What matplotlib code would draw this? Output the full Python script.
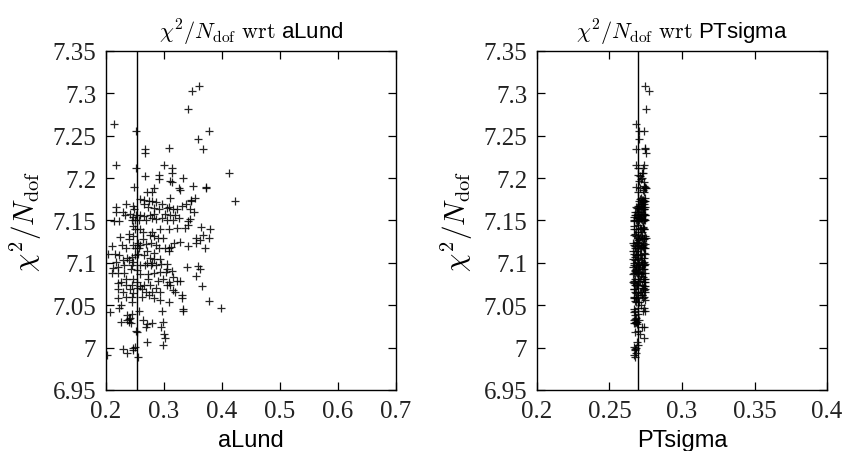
import matplotlib
matplotlib.use("Agg")
import matplotlib.pyplot as plt
from matplotlib.ticker import FuncFormatter

plt.rcParams['mathtext.fontset'] = 'cm'

# chi2/Ndof of each fit (shared by both panels)
chi2 = [
    7.309, 7.303, 7.282, 7.264, 7.256, 7.256, 7.246, 7.234, 7.234, 7.230, 7.236, 7.215,
    7.216, 7.212, 7.212, 7.206, 7.206, 7.204, 7.202, 7.200, 7.197, 7.195, 7.199, 7.190,
    7.190, 7.188, 7.191, 7.186, 7.188, 7.188, 7.184, 7.184, 7.177, 7.174, 7.173, 7.177,
    # band 2
    7.175, 7.174, 7.173, 7.173, 7.172, 7.169, 7.166, 7.167, 7.170, 7.166, 7.169, 7.167,
    7.164, 7.169, 7.166, 7.165, 7.164, 7.165, 7.164, 7.164, 7.173, 7.160, 7.164,
    # band 3
    7.160, 7.160, 7.156, 7.158, 7.154, 7.156, 7.157, 7.155, 7.156, 7.158, 7.158, 7.157,
    7.156, 7.153, 7.152, 7.149, 7.149, 7.149, 7.151, 7.150, 7.150, 7.151, 7.153, 7.152,
    7.153, 7.151, 7.151, 7.145, 7.142, 7.140, 7.144, 7.140,
    # band 4
    7.140, 7.136, 7.136, 7.140, 7.140, 7.141, 7.141, 7.134, 7.132, 7.128, 7.133, 7.132,
    7.129, 7.129, 7.129, 7.133, 7.129, 7.130, 7.125, 7.128, 7.123, 7.121, 7.122, 7.123,
    7.121, 7.118, 7.118, 7.119, 7.124, 7.120, 7.121, 7.117, 7.121, 7.117, 7.117, 7.120,
    7.118, 7.123, 7.127, 7.114, 7.112, 7.117, 7.114,
    # band 5
    7.110, 7.110, 7.109, 7.106, 7.107, 7.109, 7.110, 7.109, 7.106, 7.105, 7.105, 7.101,
    7.103, 7.103, 7.101, 7.100, 7.100, 7.098, 7.099, 7.099, 7.093, 7.094, 7.095, 7.097,
    7.097, 7.097, 7.097, 7.098, 7.095, 7.096, 7.093, 7.090,
    # band 6
    7.088, 7.088, 7.088, 7.093, 7.092, 7.087, 7.087, 7.088, 7.089, 7.089, 7.083, 7.079,
    7.085, 7.081, 7.081, 7.081, 7.079, 7.081,
    # band 7
    7.076, 7.077, 7.074, 7.074, 7.077, 7.073, 7.074, 7.074, 7.070, 7.074, 7.077, 7.079,
    7.074, 7.073, 7.069, 7.066, 7.069, 7.065, 7.070, 7.069, 7.066, 7.066, 7.066, 7.066,
    7.068, 7.062,
    # band 8
    7.059, 7.060, 7.060, 7.060, 7.062, 7.059, 7.056, 7.054, 7.058, 7.055, 7.047, 7.042,
    7.050, 7.047, 7.054, 7.043, 7.043, 7.046, 7.043, 7.038, 7.040,
    # band 9
    7.034, 7.035, 7.032, 7.030, 7.030, 7.029, 7.032, 7.028, 7.029, 7.024, 7.030, 7.024,
    7.020, 7.019, 7.016,
    # band 10
    7.011, 7.007, 6.998, 6.999, 7.001, 6.994, 7.003, 6.991, 6.989, 6.997,
]

# aLund value of each fit
a_lund = [
    0.361, 0.349, 0.341, 0.213, 0.252, 0.377, 0.359, 0.367, 0.267, 0.268, 0.308, 0.218,
    0.300, 0.252, 0.314, 0.314, 0.412, 0.292, 0.267, 0.332, 0.310, 0.313, 0.291, 0.249,
    0.372, 0.372, 0.350, 0.328, 0.325, 0.283, 0.280, 0.270, 0.354, 0.347, 0.423, 0.310,
    # band 2
    0.259, 0.266, 0.274, 0.280, 0.287, 0.297, 0.308, 0.331, 0.338, 0.218, 0.235, 0.246,
    0.249, 0.266, 0.272, 0.283, 0.292, 0.305, 0.316, 0.323, 0.346, 0.351, 0.344,
    # band 3
    0.217, 0.229, 0.233, 0.241, 0.246, 0.252, 0.259, 0.266, 0.275, 0.283, 0.302, 0.310,
    0.319, 0.325, 0.344, 0.342, 0.214, 0.222, 0.244, 0.250, 0.257, 0.269, 0.279, 0.287,
    0.296, 0.305, 0.316, 0.342, 0.363, 0.379, 0.247, 0.250,
    # band 4
    0.259, 0.264, 0.279, 0.293, 0.308, 0.322, 0.336, 0.239, 0.247, 0.264, 0.276, 0.282,
    0.290, 0.298, 0.356, 0.368, 0.378, 0.224, 0.328, 0.240, 0.256, 0.259, 0.269, 0.278,
    0.287, 0.292, 0.308, 0.312, 0.318, 0.210, 0.227, 0.234, 0.246, 0.250, 0.257, 0.342,
    0.371, 0.356, 0.362, 0.270, 0.282, 0.302, 0.308,
    # band 5
    0.204, 0.216, 0.223, 0.236, 0.244, 0.250, 0.256, 0.266, 0.275, 0.283, 0.293, 0.218,
    0.229, 0.239, 0.247, 0.270, 0.280, 0.287, 0.295, 0.305, 0.305, 0.212, 0.221, 0.231,
    0.244, 0.259, 0.268, 0.277, 0.340, 0.359, 0.362, 0.313,
    # band 6
    0.210, 0.221, 0.231, 0.243, 0.253, 0.259, 0.272, 0.283, 0.293, 0.303, 0.316, 0.328,
    0.356, 0.234, 0.247, 0.273, 0.289, 0.298,
    # band 7
    0.220, 0.226, 0.234, 0.245, 0.253, 0.259, 0.266, 0.276, 0.287, 0.305, 0.308, 0.322,
    0.310, 0.365, 0.221, 0.229, 0.241, 0.246, 0.253, 0.262, 0.269, 0.279, 0.293, 0.319,
    0.316, 0.331,
    # band 8
    0.220, 0.234, 0.244, 0.262, 0.274, 0.282, 0.293, 0.308, 0.331, 0.378, 0.399, 0.207,
    0.226, 0.223, 0.244, 0.257, 0.297, 0.333, 0.333, 0.236, 0.244,
    # band 9
    0.239, 0.241, 0.236, 0.240, 0.225, 0.243, 0.264, 0.270, 0.279, 0.269, 0.298, 0.295,
    0.252, 0.254, 0.300,
    # band 10
    0.302, 0.270, 0.229, 0.247, 0.250, 0.237, 0.299, 0.202, 0.255, 0.246,
]

# PTsigma value of each fit
pt_sigma = [
    0.2742, 0.2770, 0.2752, 0.2685, 0.2703, 0.2738, 0.2703, 0.2686, 0.2745, 0.2750, 0.2742, 0.2686,
    0.2735, 0.2700, 0.2728, 0.2722, 0.2731, 0.2695, 0.2712, 0.2726, 0.2705, 0.2738, 0.2719, 0.2685,
    0.2748, 0.2752, 0.2741, 0.2733, 0.2710, 0.2745, 0.2738, 0.2698, 0.2744, 0.2729, 0.2735, 0.2716,
    # band 2
    0.2712, 0.2725, 0.2740, 0.2703, 0.2731, 0.2718, 0.2744, 0.2708, 0.2736, 0.2680, 0.2722, 0.2695,
    0.2741, 0.2714, 0.2730, 0.2688, 0.2738, 0.2705, 0.2727, 0.2716, 0.2742, 0.2700, 0.2733,
    # band 3
    0.2678, 0.2690, 0.2715, 0.2732, 0.2668, 0.2742, 0.2701, 0.2724, 0.2683, 0.2736, 0.2710, 0.2675,
    0.2745, 0.2697, 0.2720, 0.2666, 0.2730, 0.2688, 0.2740, 0.2705, 0.2671, 0.2727, 0.2693, 0.2738,
    0.2712, 0.2680, 0.2746, 0.2700, 0.2734, 0.2718, 0.2669, 0.2741,
    # band 4
    0.2686, 0.2723, 0.2695, 0.2740, 0.2667, 0.2712, 0.2730, 0.2676, 0.2744, 0.2703, 0.2719, 0.2684,
    0.2736, 0.2698, 0.2752, 0.2671, 0.2726, 0.2709, 0.2690, 0.2738, 0.2665, 0.2715, 0.2747, 0.2681,
    0.2728, 0.2700, 0.2674, 0.2733, 0.2692, 0.2721, 0.2669, 0.2742, 0.2706, 0.2687, 0.2735, 0.2678,
    0.2717, 0.2729, 0.2696, 0.2663, 0.2739, 0.2710, 0.2683,
    # band 5
    0.2666, 0.2720, 0.2689, 0.2737, 0.2673, 0.2708, 0.2745, 0.2682, 0.2726, 0.2664, 0.2699, 0.2741,
    0.2677, 0.2714, 0.2690, 0.2733, 0.2669, 0.2722, 0.2703, 0.2747, 0.2680, 0.2711, 0.2663, 0.2735,
    0.2694, 0.2725, 0.2671, 0.2740, 0.2705, 0.2686, 0.2730, 0.2675,
    # band 6
    0.2668, 0.2727, 0.2692, 0.2739, 0.2679, 0.2716, 0.2665, 0.2744, 0.2701, 0.2684, 0.2732, 0.2672,
    0.2720, 0.2697, 0.2746, 0.2676, 0.2709, 0.2738,
    # band 7
    0.2670, 0.2735, 0.2688, 0.2722, 0.2664, 0.2743, 0.2699, 0.2681, 0.2729, 0.2674, 0.2748, 0.2706,
    0.2690, 0.2737, 0.2667, 0.2719, 0.2742, 0.2685, 0.2731, 0.2672, 0.2712, 0.2745, 0.2696, 0.2678,
    0.2740, 0.2724,
    # band 8
    0.2671, 0.2690, 0.2738, 0.2666, 0.2726, 0.2680, 0.2745, 0.2702, 0.2734, 0.2675, 0.2694, 0.2668,
    0.2715, 0.2740, 0.2684, 0.2673, 0.2730, 0.2669, 0.2742, 0.2678, 0.2697,
    # band 9
    0.2677, 0.2686, 0.2670, 0.2692, 0.2681, 0.2674, 0.2705, 0.2689, 0.2672, 0.2727, 0.2684, 0.2738,
    0.2695, 0.2679, 0.2712,
    # band 10
    0.2735, 0.2688, 0.2676, 0.2682, 0.2670, 0.2686, 0.2694, 0.2667, 0.2673, 0.2679,
]

# reference (best-fit) values shown as vertical lines
a_lund_ref = 0.254
pt_sigma_ref = 0.2697

panels = [
    ("aLund", a_lund, a_lund_ref, (0.2, 0.7), [0.2, 0.3, 0.4, 0.5, 0.6, 0.7]),
    ("PTsigma", pt_sigma, pt_sigma_ref, (0.2, 0.4), [0.2, 0.25, 0.3, 0.35, 0.4]),
]
y_ticks = [6.95, 7.0, 7.05, 7.1, 7.15, 7.2, 7.25, 7.3, 7.35]

fig = plt.figure(figsize=(8.57, 4.52), dpi=100)
lefts = [0.1237, 0.6266]
serif = "Liberation Serif"
sans = "Liberation Sans"
fmt = FuncFormatter(lambda v, p: "%g" % round(v, 3))

for left, (name, xs, ref, xlim, xticks) in zip(lefts, panels):
    ax = fig.add_axes([left, 0.135, 0.3384, 0.75])
    ax.scatter(xs, chi2, marker="+", s=36, c="black", linewidths=0.9, alpha=0.85)
    ax.axvline(ref, color="black", lw=1.0)
    ax.set_xlim(*xlim)
    ax.set_ylim(6.95, 7.35)
    ax.set_xticks(xticks)
    ax.set_yticks(y_ticks)
    ax.xaxis.set_major_formatter(fmt)
    ax.yaxis.set_major_formatter(fmt)
    ax.tick_params(direction="in", top=True, right=True, length=6, width=0.9,
                   labelsize=18, pad=7, labelcolor="#222222")
    for lab in ax.get_xticklabels() + ax.get_yticklabels():
        lab.set_fontfamily(serif)
    for sp in ax.spines.values():
        sp.set_linewidth(1.0)
    ax.set_xlabel(name, fontfamily=sans, fontsize=17, labelpad=5)
    ax.set_ylabel(r"$\chi^2/N_{\mathrm{dof}}$", fontsize=21, labelpad=6)
    ax.set_title(r"$\chi^2/N_{\mathrm{dof}}\ \mathrm{wrt}$ " + name,
                 fontfamily=sans, fontsize=16, pad=9)

fig.savefig("out.png", dpi=100)
